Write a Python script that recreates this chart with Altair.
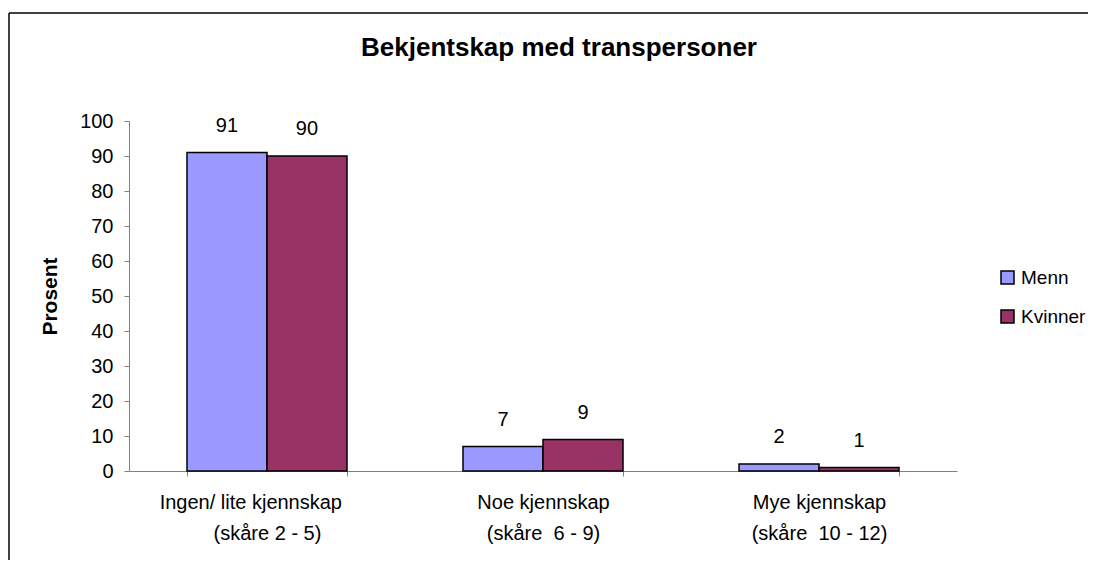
import json
import altair as alt
import pandas as pd

# ---- data ----
categories = ["Ingen/ lite kjennskap", "Noe kjennskap", "Mye kjennskap"]
category_second_line = ["(skåre 2 - 5)", "(skåre\u00a0 6 - 9)", "(skåre\u00a0 10 - 12)"]
series = ["Menn", "Kvinner"]
menn = [91, 7, 2]
kvinner = [90, 9, 1]
colors = ["#9999FF", "#993366"]
y_ticks = [0, 10, 20, 30, 40, 50, 60, 70, 80, 90, 100]

rows = []
for i, c in enumerate(categories):
    rows.append({"kategori": c, "kjonn": series[0], "prosent": menn[i]})
    rows.append({"kategori": c, "kjonn": series[1], "prosent": kvinner[i]})
df = pd.DataFrame(rows)

NB = "\u00a0"
WJ = "\u2060"
label_map = {
    categories[0]: [categories[0] + NB * 6 + WJ, category_second_line[0]],
    categories[1]: [categories[1], category_second_line[1]],
    categories[2]: [categories[2], category_second_line[2]],
}
label_expr = json.dumps(label_map, ensure_ascii=False) + "[datum.value]"

FONT = "Liberation Sans"

x_enc = alt.X(
    "kategori:N",
    sort=categories,
    scale=alt.Scale(paddingInner=0.4203, paddingOuter=0.2101),
    axis=alt.Axis(
        title=None,
        labelExpr=label_expr,
        labelAngle=0,
        labelFontSize=20,
        labelFont=FONT,
        labelColor="black",
        labelLineHeight=31,
        labelPadding=16,
        labelLimit=0,
        labelOverlap=False,
        tickBand="extent",
        tickSize=5,
        domainColor="#808080",
        tickColor="#808080",
        grid=False,
    ),
)

y_enc = alt.Y(
    "prosent:Q",
    scale=alt.Scale(domain=[0, 100], nice=False),
    axis=alt.Axis(
        values=y_ticks,
        title="Prosent",
        titleFont=FONT,
        titleFontSize=21,
        titleFontWeight="bold",
        titleColor="black",
        titleAngle=270,
        titleX=-79,
        titleY=175,
        titleAlign="center",
        titleBaseline="middle",
        labelFont=FONT,
        labelFontSize=20,
        labelColor="black",
        labelPadding=11,
        labelOverlap=False,
        tickSize=5,
        grid=False,
        domainColor="#808080",
        tickColor="#808080",
    ),
)

xoff = alt.XOffset("kjonn:N", sort=series, scale=alt.Scale(paddingInner=0, paddingOuter=0))

base = alt.Chart(df)

bars = base.mark_bar(stroke="black", strokeWidth=1.5).encode(
    x=x_enc,
    y=y_enc,
    xOffset=xoff,
    color=alt.Color(
        "kjonn:N",
        sort=series,
        scale=alt.Scale(domain=series, range=colors),
        legend=alt.Legend(
            title=None,
            orient="none",
            legendX=869,
            legendY=147,
            padding=0,
            symbolType="square",
            symbolSize=169,
            symbolStrokeColor="black",
            symbolStrokeWidth=1.5,
            symbolOpacity=1,
            labelFont=FONT,
            labelFontSize=19,
            labelColor="black",
            labelOffset=4,
            rowPadding=19,
        ),
    ),
)

labels = base.mark_text(dy=-27, baseline="middle", fontSize=20, font=FONT, color="black").encode(
    x=x_enc,
    y=y_enc,
    xOffset=xoff,
    text="prosent:Q",
)

frame_df = pd.DataFrame({"d": [0]})
top_rule = alt.Chart(frame_df).mark_rule(color="black", strokeWidth=1.5).encode(
    x=alt.value(-120), x2=alt.value(1000), y=alt.value(-108)
)
left_rule = alt.Chart(frame_df).mark_rule(color="black", strokeWidth=1.5).encode(
    x=alt.value(-120), y=alt.value(-108), y2=alt.value(460)
)

chart = (
    alt.layer(bars, labels, top_rule, left_rule)
    .properties(
        width=828,
        height=350,
        autosize=alt.AutoSizeParams(type="none"),
        padding={"left": 121, "top": 113, "right": 131, "bottom": 89},
        title=alt.TitleParams(
            "Bekjentskap med transpersoner",
            font=FONT,
            fontSize=26,
            fontWeight="bold",
            color="black",
            anchor="middle",
            dx=16,
            dy=70,
            offset=0,
            baseline="alphabetic",
        ),
    )
    .configure_view(stroke=None)
)

chart.save("out.html", embed_options={"renderer": "svg", "actions": False})
